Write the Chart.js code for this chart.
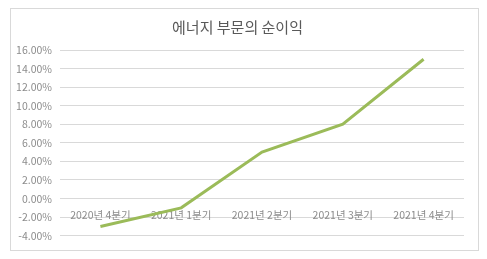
<!DOCTYPE html>
<html lang="ko">
<head>
  <meta charset="UTF-8">
  <title>에너지 부문의 순이익</title>
  <style>
    body { margin: 0; background: #fff; }
    .wrap { position: absolute; left: 10px; top: 8px; width: 467px; height: 241px; border: 1px solid #d9d9d9; }
  </style>
</head>
<body>
  <div class="wrap"><canvas id="profit"></canvas></div>

  <script src="https://cdn.jsdelivr.net/npm/chart.js"></script>
  <script>
    // quarters and net profit (%)
    const quarters = ['2020년 4분기', '2021년 1분기', '2021년 2분기', '2021년 3분기', '2021년 4분기'];
    const netProfit = [-3, -1, 5, 8, 15];
    const yTicks = { min: -4, max: 16, step: 2 };

    const font = "'Noto Sans CJK KR', 'Noto Sans', sans-serif";

    new Chart(document.getElementById('profit'), {
      type: 'line',
      data: {
        labels: quarters,
        datasets: [{
          data: netProfit,
          borderColor: '#9bbb59',
          borderWidth: 3,
          pointRadius: 0,
          tension: 0
        }]
      },
      options: {
        responsive: true,
        maintainAspectRatio: false,
        animation: false,
        layout: { padding: { left: 0, right: 14, top: 0, bottom: 9 } },
        plugins: {
          legend: { display: false },
          tooltip: { enabled: false },
          title: {
            display: true,
            text: '에너지 부문의 순이익',
            color: '#595959',
            font: { family: font, size: 15, weight: 'normal' },
            padding: { top: 9, bottom: 14 }
          }
        },
        scales: {
          x: {
            position: { y: 0 },
            offset: true,
            grid: { display: false },
            border: { display: false },
            ticks: { color: '#8c8c8c', font: { family: font, size: 10.5 }, padding: 2, maxRotation: 0 }
          },
          y: {
            min: yTicks.min,
            max: yTicks.max,
            grid: { color: '#d9d9d9', drawTicks: false },
            border: { display: false },
            afterFit: s => { s.width = 49; },
            ticks: {
              stepSize: yTicks.step,
              color: '#8c8c8c',
              padding: 8,
              font: { family: font, size: 10.5 },
              callback: v => v.toFixed(2) + '%'
            }
          }
        }
      }
    });
  </script>
</body>
</html>
